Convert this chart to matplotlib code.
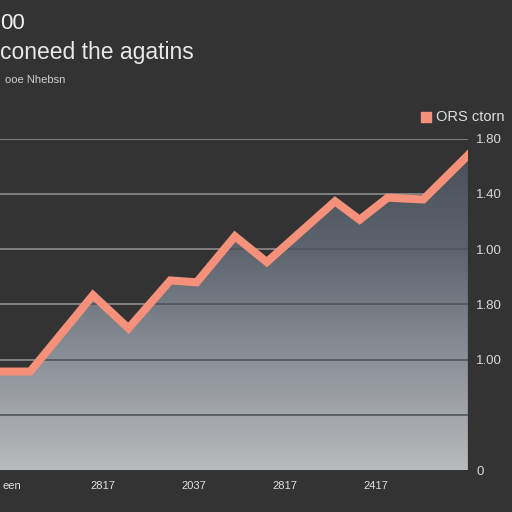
import numpy as np
import matplotlib
matplotlib.use("Agg")
import matplotlib.pyplot as plt
from matplotlib.colors import LinearSegmentedColormap

plt.rcParams["font.family"] = ["Liberation Sans", "DejaVu Sans"]

# data (x in tick-index units, y in axis units)
x_vals = [-0.35, 0.20, 0.89, 1.28, 1.74, 2.03, 2.45, 2.80, 3.55, 3.82, 4.13, 4.52, 5.01]
y_vals = [0.535, 0.535, 0.95, 0.77, 1.03, 1.02, 1.27, 1.13, 1.46, 1.36, 1.48, 1.47, 1.71]
x_ticks = [0, 1, 2, 3, 4]
x_labels = ["een", "2817", "2037", "2817", "2417"]
y_ticks = [0, 0.3, 0.6, 0.9, 1.2, 1.5, 1.8]
y_labels = ["0", "", "1.00", "1.80", "1.00", "1.40", "1.80"]
title_top = "00"
title = "coneed the agatins"
subtitle = "ooe Nhebsn"
legend_label = "ORS ctorn"

bg = "#333333"
line_col = "#f5917a"

fig = plt.figure(figsize=(5.12, 5.12), dpi=100, facecolor=bg)
ax = fig.add_axes([0.0, 0.082, 0.914, 0.647])
ax.set_facecolor(bg)
ax.set_xlim(-0.132, 5.011)
ax.set_ylim(0, 1.8)

# light grid behind everything
for t in y_ticks[1:]:
    ax.axhline(t, color="#8c8c8c", lw=1.2, zorder=1)

# gradient fill under the line
poly = ax.fill_between(x_vals, y_vals, 0, color="none", zorder=2)
cmap = LinearSegmentedColormap.from_list("", ["#b8babc", "#8c9198", "#5d646d", "#464c54"])
grad = np.linspace(0, 1, 256).reshape(-1, 1)
im = ax.imshow(grad, cmap=cmap, origin="lower", aspect="auto",
               extent=[-0.5, 5.2, 0, 1.8], zorder=2)
path = poly.get_paths()[0]
im.set_clip_path(path, transform=ax.transData)

# darker grid lines inside the fill
for t in y_ticks[1:]:
    ln = ax.axhline(t, color="#4e555d", lw=1.2, zorder=3)
    ln.set_clip_path(path, transform=ax.transData)

ax.plot(x_vals, y_vals, color=line_col, lw=5.8, solid_joinstyle="miter", zorder=4)

for s in ax.spines.values():
    s.set_visible(False)
ax.set_xticks(x_ticks)
ax.set_xticklabels(x_labels, color="#e0e0e0", fontsize=8)
ax.set_yticks(y_ticks)
ax.set_yticklabels(y_labels, color="#d8d8d8", fontsize=9.5)
ax.yaxis.tick_right()
ax.tick_params(axis="both", length=0)
ax.tick_params(axis="y", pad=6)
ax.tick_params(axis="x", pad=8)

fig.text(0.0, 0.955, title_top, color="#f0f0f0", fontsize=16, va="center", ha="left")
fig.text(0.0, 0.898, title, color="#e8e8e8", fontsize=16.5, va="center", ha="left")
fig.text(0.01, 0.843, subtitle, color="#cfcfcf", fontsize=8, va="center", ha="left")

# legend
fig.patches.append(plt.Rectangle((0.822, 0.762), 0.02, 0.02, transform=fig.transFigure,
                                 color=line_col, figure=fig))
fig.text(0.851, 0.772, legend_label, color="#e0e0e0", fontsize=10.5, va="center", ha="left")

fig.savefig("out.png", dpi=100, facecolor=bg)
